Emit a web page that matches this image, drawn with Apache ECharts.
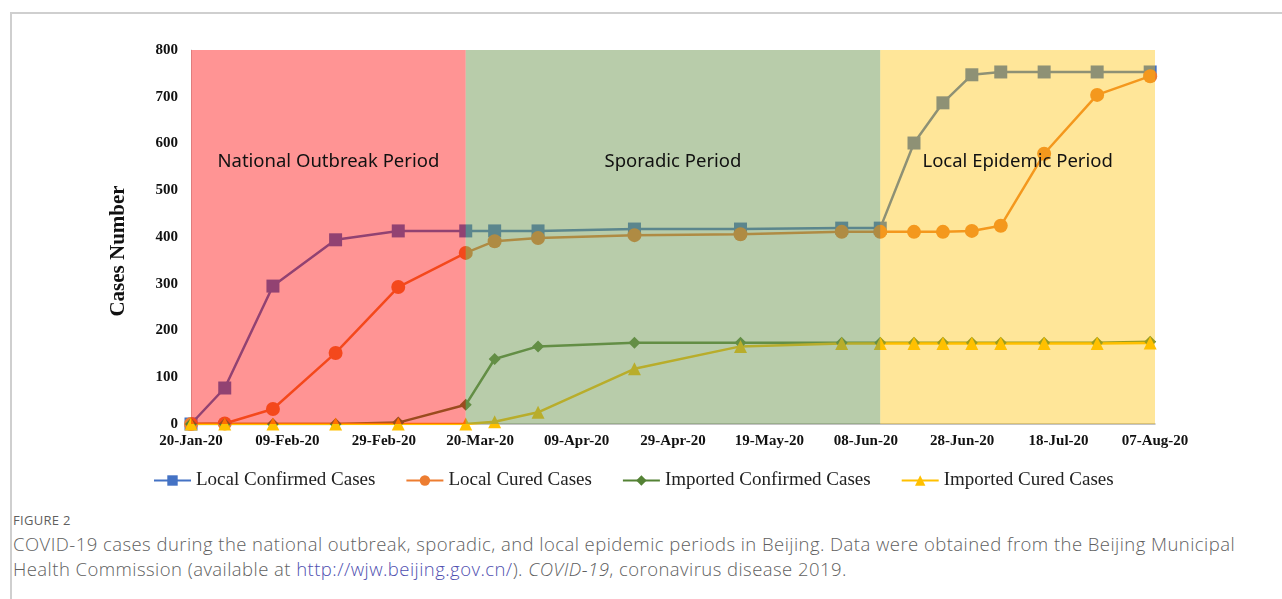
<!DOCTYPE html>
<html>
<head>
<meta charset="utf-8">
<script src="https://cdn.jsdelivr.net/npm/echarts@6/dist/echarts.min.js"></script>
<style>
  html, body { margin: 0; padding: 0; background: #fff; width: 1282px; height: 599px; overflow: hidden; }
  #frame { position: absolute; left: 10px; top: 12px; right: 0; bottom: 0; border-left: 2px solid #cfcfcf; border-top: 2px solid #cfcfcf; }
  #main { position: absolute; left: 0; top: 0; width: 1282px; height: 500px; }
  #caption { position: absolute; left: 13px; top: 509px; width: 1268px; font-family: "Open Sans", "Noto Sans", sans-serif; color: #5f5f5f; white-space: nowrap; }
  #caption .fig { font-size: 13px; letter-spacing: 0.3px; line-height: 22px; }
  #caption .txt { font-size: 18.5px; line-height: 25px; font-weight: 300; letter-spacing: 0.45px; }
  #caption a { color: #4f4fb0; text-decoration: none; }
</style>
</head>
<body>
<div id="frame"></div>
<div id="main"></div>
<div id="caption">
  <div class="fig">FIGURE 2</div>
  <div class="txt">COVID-19 cases during the national outbreak, sporadic, and local epidemic periods in Beijing. Data were obtained from the Beijing Municipal<br>Health Commission (available at <a href="#">http://wjw.beijing.gov.cn/</a>). <i>COVID-19</i>, coronavirus disease 2019.</div>
</div>
<script>
// report dates and cumulative counts
const dates = ['2020-01-20','2020-01-27','2020-02-06','2020-02-19','2020-03-03','2020-03-17','2020-03-23',
  '2020-04-01','2020-04-21','2020-05-13','2020-06-03','2020-06-11','2020-06-18','2020-06-24','2020-06-30',
  '2020-07-06','2020-07-15','2020-07-26','2020-08-06'];
const localConfirmed  = [0, 77, 295, 394, 413, 413, 413, 413, 417, 417, 419, 419, 601, 687, 747, 753, 753, 753, 753];
const localCured      = [0, 1, 32, 152, 293, 366, 391, 398, 404, 406, 411, 411, 411, 411, 413, 424, 578, 704, 744];
const importConfirmed = [0, 0, 0, 0, 3, 41, 139, 166, 174, 174, 174, 174, 174, 174, 174, 174, 174, 174, 176];
const importCured     = [0, 0, 0, 0, 0, 0, 5, 25, 118, 166, 172, 172, 172, 172, 172, 172, 172, 172, 173];
const periods = [
  {name: 'National Outbreak Period', from: '2020-01-20', to: '2020-03-17', color: 'rgba(255,0,0,0.42)'},
  {name: 'Sporadic Period', from: '2020-03-17', to: '2020-06-11', color: 'rgba(113,153,85,0.5)'},
  {name: 'Local Epidemic Period', from: '2020-06-11', to: '2020-08-08', color: 'rgba(255,192,0,0.4)'}
];
const startDay = '2020-01-20';
const monthNames = ['Jan','Feb','Mar','Apr','May','Jun','Jul','Aug','Sep','Oct','Nov','Dec'];

const dayOf = d => (Date.parse(d) - Date.parse(startDay)) / 86400000;
const fmtDay = v => {
  const d = new Date(Date.parse(startDay) + v * 86400000);
  return String(d.getUTCDate()).padStart(2, '0') + '-' + monthNames[d.getUTCMonth()] + '-' + String(d.getUTCFullYear()).slice(2);
};
const toPts = arr => arr.map((v, i) => [dayOf(dates[i]), v]);

const chart = echarts.init(document.getElementById('main'));
const serif = '"Liberation Serif", "Times New Roman", serif';
const mkLine = (name, color, symbol, size, arr) => ({
  name, type: 'line', data: toPts(arr), symbol, symbolSize: size,
  lineStyle: {color, width: 2.5}, itemStyle: {color}, z: 2
});

chart.setOption({
  animation: false,
  grid: {left: 191, right: 127, top: 50, bottom: 76},
  legend: {
    data: ['Local Confirmed Cases', 'Local Cured Cases', 'Imported Confirmed Cases', 'Imported Cured Cases'],
    left: 148, top: 466, itemWidth: 37, itemHeight: 13, itemGap: 30,
    textStyle: {fontFamily: serif, fontSize: 19, color: '#222'}
  },
  xAxis: {
    type: 'value', min: 0, max: 200, interval: 20,
    axisLine: {lineStyle: {color: '#b0b0b0', width: 1.5}},
    axisTick: {show: false}, splitLine: {show: false},
    axisLabel: {formatter: fmtDay, fontFamily: serif, fontWeight: 'bold', fontSize: 15, color: '#111', margin: 10}
  },
  yAxis: {
    type: 'value', min: 0, max: 800, interval: 100,
    name: 'Cases Number', nameLocation: 'middle', nameGap: 62,
    nameTextStyle: {fontFamily: serif, fontWeight: 'bold', fontSize: 21, color: '#111', padding: [0, 0, 0, -28]},
    axisLine: {show: true, lineStyle: {color: '#c8d8d8', width: 1}},
    axisTick: {show: false}, splitLine: {show: false},
    axisLabel: {fontFamily: serif, fontWeight: 'bold', fontSize: 15, color: '#111', margin: 13}
  },
  series: [
    mkLine('Local Confirmed Cases', '#4472C4', 'rect', 13, localConfirmed),
    mkLine('Local Cured Cases', '#ED7D31', 'circle', 14, localCured),
    mkLine('Imported Confirmed Cases', '#548235', 'diamond', 12, importConfirmed),
    mkLine('Imported Cured Cases', '#FFC000', 'triangle', 13, importCured),
    {
      name: 'periods', type: 'line', data: [], z: 10, silent: true,
      markArea: {
        silent: true, z: 10,
        label: {show: true, position: 'insideTop', distance: 102, fontFamily: '"Noto Sans", "Open Sans", sans-serif', fontSize: 18.5, color: '#111'},
        data: periods.map(p => [
          {name: p.name, xAxis: dayOf(p.from), itemStyle: {color: p.color}},
          {xAxis: Math.min(dayOf(p.to), 200)}
        ])
      }
    }
  ]
});
</script>
</body>
</html>
